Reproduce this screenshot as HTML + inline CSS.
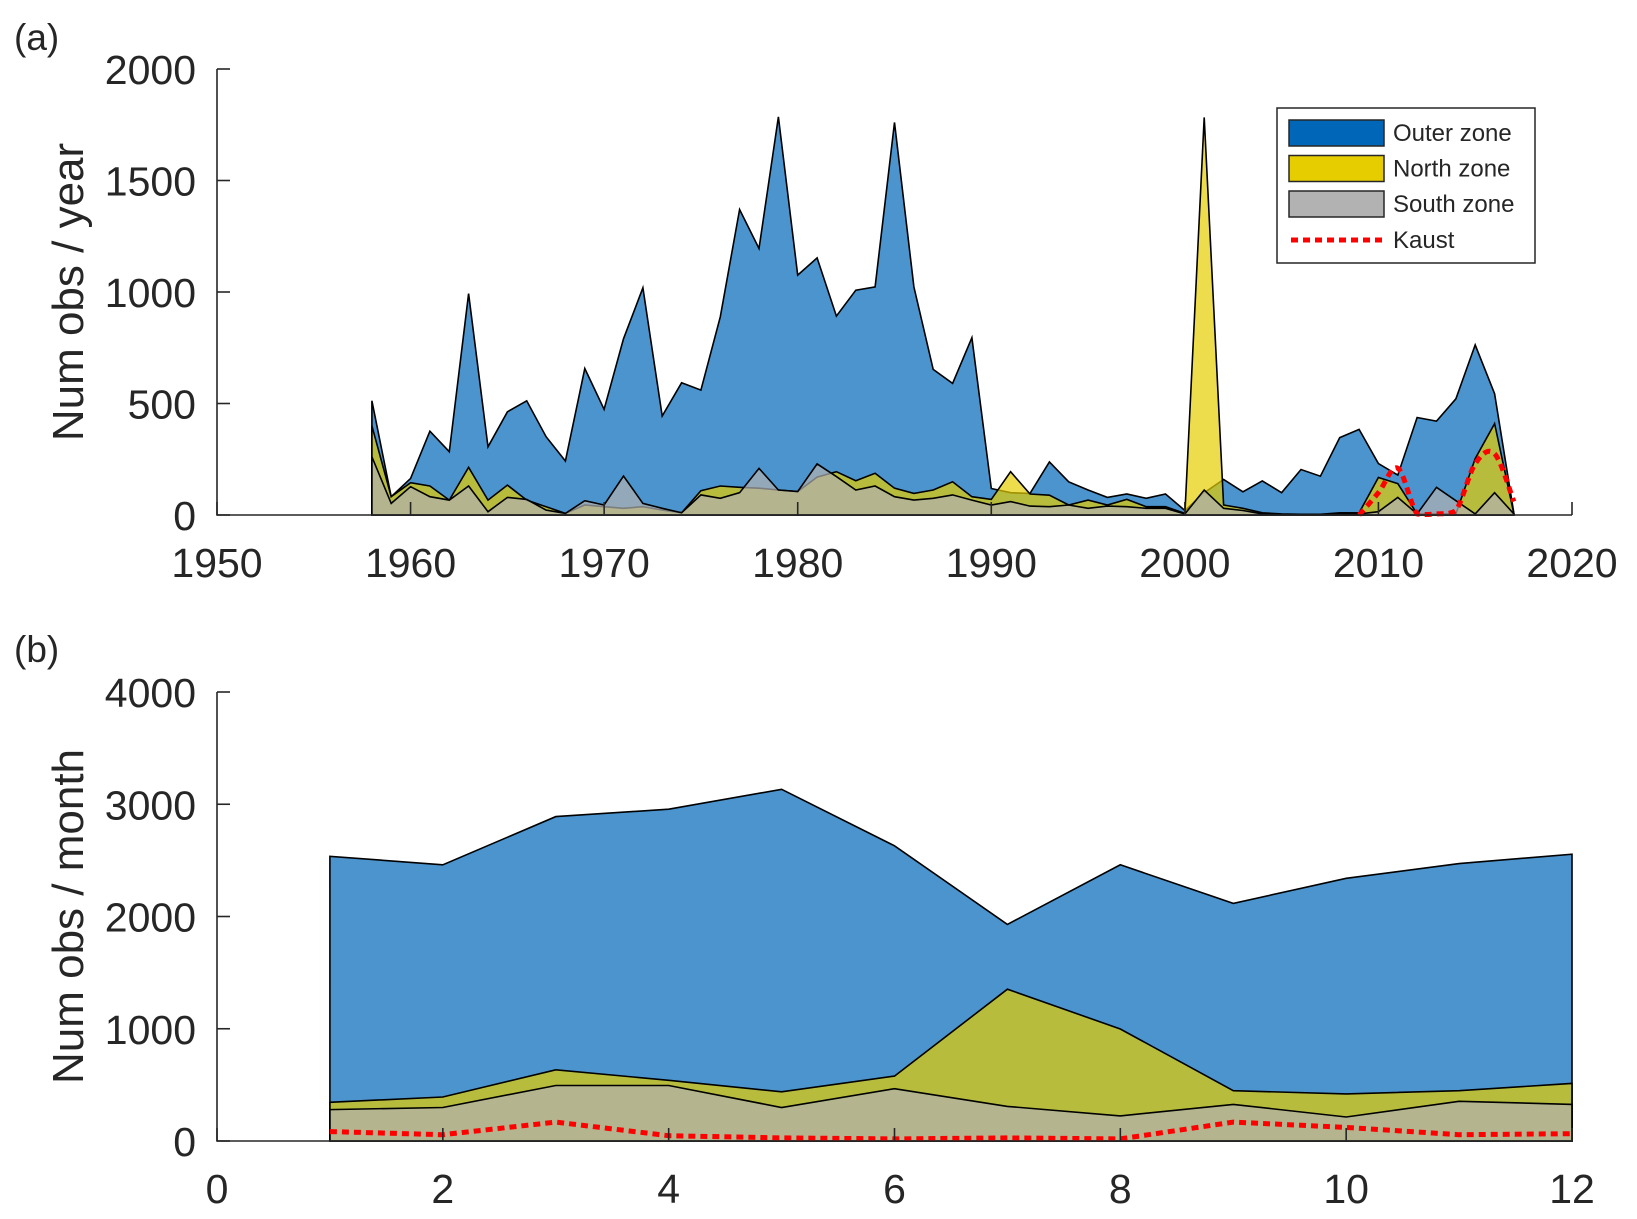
<!DOCTYPE html>
<html><head><meta charset="utf-8"><style>
html,body{margin:0;padding:0;background:#fff}
svg{display:block}
text{font-family:"Liberation Sans",Arial,sans-serif;fill:#262626}
</style></head><body>
<svg id="chart" width="1637" height="1219" viewBox="0 0 1637 1219" xmlns="http://www.w3.org/2000/svg"></svg>
<script>
// ---- Panel (a) data: yearly ----
const years = [];
for (let y = 1958; y <= 2017; y++) years.push(y);
const outerYear = [512,82,164,376,284,993,306,463,512,351,242,657,474,790,1019,444,593,560,889,1370,1195,1785,1076,1153,892,1008,1023,1760,1023,653,590,795,119,100,97,238,149,112,79,94,75,94,20,100,159,104,153,100,204,174,347,384,231,179,437,421,521,763,544,7];
const northYear = [400,82,145,130,67,214,67,134,67,37,7,45,37,30,37,22,10,109,130,124,120,112,105,170,194,154,187,120,97,112,149,82,70,194,94,89,45,67,45,70,37,37,7,1783,45,30,10,5,3,3,10,10,168,141,5,5,5,253,410,5];
const southYear = [261,52,127,82,67,130,15,79,70,22,7,64,45,175,52,30,10,90,75,100,209,112,105,229,172,112,130,82,67,75,90,67,45,60,40,37,45,30,40,37,30,30,5,112,30,20,5,3,2,2,5,5,15,79,5,124,64,5,100,5];
const kaustYears = [2009,2010,2011,2012,2013,2014,2015,2016,2017];
const kaustYear = [0,100,210,5,5,20,230,275,60];
const yearTicks = [1950,1960,1970,1980,1990,2000,2010,2020];
const yearValTicks = [0,500,1000,1500,2000];

// ---- Panel (b) data: monthly ----
const months = [1,2,3,4,5,6,7,8,9,10,11,12];
const outerMonth = [2536,2461,2890,2956,3133,2630,1930,2461,2117,2340,2471,2555];
const northMonth = [345,392,634,541,438,578,1352,998,448,420,448,513];
const southMonth = [280,298,494,494,298,466,308,224,326,214,354,326];
const kaustMonth = [84,56,168,47,28,19,28,19,168,121,56,65];
const monthTicks = [0,2,4,6,8,10,12];
const monthValTicks = [0,1000,2000,3000,4000];

const NS = "http://www.w3.org/2000/svg";
const svg = document.getElementById('chart');
function mk(tag, attrs, parent) {
  const e = document.createElementNS(NS, tag);
  for (const k in attrs) e.setAttribute(k, attrs[k]);
  (parent || svg).appendChild(e);
  return e;
}
const BLUE = "rgba(0,102,184,0.7)", YEL = "rgba(230,205,0,0.7)", GRY = "rgba(178,178,178,0.7)";

function panel(cfg) {
  const g = mk('g', {});
  
  
  const X = v => cfg.L + (v - cfg.x0) / (cfg.x1 - cfg.x0) * (cfg.R - cfg.L);
  const Y = v => cfg.B - (v - cfg.y0) / (cfg.y1 - cfg.y0) * (cfg.B - cfg.T);
  function area(xs, ys, fill, nm) {
    let d = 'M' + X(xs[0]) + ',' + Y(0);
    xs.forEach((x, i) => d += ' L' + X(x).toFixed(1) + ',' + Y(ys[i]).toFixed(1));
    d += ' L' + X(xs[xs.length - 1]) + ',' + Y(0) + ' Z';
    const p = mk('path', {d: d, fill: fill, stroke: '#000', 'stroke-width': 1.6, 'stroke-linejoin': 'miter'}, g);
    
    
  }
  area(cfg.xs, cfg.outer, BLUE, 'outer-zone-area');
  area(cfg.xs, cfg.north, YEL, 'north-zone-area');
  area(cfg.xs, cfg.south, GRY, 'south-zone-area');
  const pts = cfg.kx.map((x, i) => [X(x), Y(cfg.ky[i])]);
  const base = Y(0);
  let d = 'M' + pts[0][0] + ',' + pts[0][1];
  if (cfg.smooth) {
    for (let i = 0; i < pts.length - 1; i++) {
      const p0 = pts[Math.max(0, i - 1)], p1 = pts[i], p2 = pts[i + 1], p3 = pts[Math.min(pts.length - 1, i + 2)];
      const c1 = [p1[0] + (p2[0] - p0[0]) / 6, Math.min(base, p1[1] + (p2[1] - p0[1]) / 6)];
      const c2 = [p2[0] - (p3[0] - p1[0]) / 6, Math.min(base, p2[1] - (p3[1] - p1[1]) / 6)];
      d += ' C' + c1[0].toFixed(1) + ',' + c1[1].toFixed(1) + ' ' + c2[0].toFixed(1) + ',' + c2[1].toFixed(1) + ' ' + p2[0].toFixed(1) + ',' + p2[1].toFixed(1);
    }
  } else {
    for (let i = 1; i < pts.length; i++) d += ' L' + pts[i][0].toFixed(1) + ',' + pts[i][1].toFixed(1);
  }
  const kl = mk('path', {d: d, fill: 'none', stroke: '#ff0000', 'stroke-width': 5, 'stroke-dasharray': '7 5'}, g);
  
  
  const ax = mk('path', {d: 'M' + cfg.L + ',' + cfg.T + ' L' + cfg.L + ',' + cfg.B + ' L' + cfg.R + ',' + cfg.B, fill: 'none', stroke: '#262626', 'stroke-width': 1.6}, g);
  
  
  cfg.xticks.forEach(t => {
    const x = X(t);
    const tk = mk('line', {x1: x, x2: x, y1: cfg.B, y2: cfg.B - 13, stroke: '#262626', 'stroke-width': 1.6}, g);
    
    
    const tx = mk('text', {x: x, y: cfg.B + 62, 'font-size': 41, 'text-anchor': 'middle'}, g);
    tx.textContent = t;
    
    
  });
  cfg.yticks.forEach(t => {
    const y = Y(t);
    const tk = mk('line', {x1: cfg.L, x2: cfg.L + 13, y1: y, y2: y, stroke: '#262626', 'stroke-width': 1.6}, g);
    
    
    const tx = mk('text', {x: cfg.L - 21, y: y + 15, 'font-size': 41, 'text-anchor': 'end'}, g);
    tx.textContent = t;
    
    
  });
  const yl = mk('text', {x: 0, y: 0, 'font-size': 44, 'text-anchor': 'middle', transform: 'translate(' + cfg.ylx + ',' + ((cfg.T + cfg.B) / 2) + ') rotate(-90)'}, g);
  yl.textContent = cfg.ylabel;
  
  
  const pl = mk('text', {x: 14, y: cfg.tagY, 'font-size': 37}, g);
  pl.textContent = cfg.tag;
  
  
}

panel({name: 'panel-a-yearly', L: 217, R: 1572, T: 69, B: 515, x0: 1950, x1: 2020, y0: 0, y1: 2000,
  xs: years, outer: outerYear, north: northYear, south: southYear, kx: kaustYears, ky: kaustYear, smooth: true,
  xticks: yearTicks, yticks: yearValTicks, ylabel: 'Num obs / year', ylx: 83, tag: '(a)', tagY: 50});
panel({name: 'panel-b-monthly', L: 217, R: 1572, T: 692, B: 1141, x0: 0, x1: 12, y0: 0, y1: 4000,
  xs: months, outer: outerMonth, north: northMonth, south: southMonth, kx: months, ky: kaustMonth, smooth: false,
  xticks: monthTicks, yticks: monthValTicks, ylabel: 'Num obs / month', ylx: 83, tag: '(b)', tagY: 662});

const lg = mk('g', {});


const lb = mk('rect', {x: 1277, y: 108, width: 258, height: 155, fill: '#fff', stroke: '#262626', 'stroke-width': 1.5}, lg);


const entries = [['Outer zone', '#0066b8', 'legend-entry-outer'], ['North zone', '#e6cd00', 'legend-entry-north'], ['South zone', '#b2b2b2', 'legend-entry-south']];
entries.forEach((e, i) => {
  const cy = 133 + i * 35.5;
  const r = mk('rect', {x: 1289, y: cy - 13, width: 95, height: 26, fill: e[1], stroke: '#262626', 'stroke-width': 1.5}, lg);
  
  
  const t = mk('text', {x: 1393, y: cy + 8, 'font-size': 24}, lg);
  t.textContent = e[0];
  
  
});
const kl = mk('line', {x1: 1291, x2: 1384, y1: 240, y2: 240, stroke: '#ff0000', 'stroke-width': 5, 'stroke-dasharray': '7 5'}, lg);


const kt = mk('text', {x: 1393, y: 248, 'font-size': 24}, lg);
kt.textContent = 'Kaust';


</script>
</body></html>
